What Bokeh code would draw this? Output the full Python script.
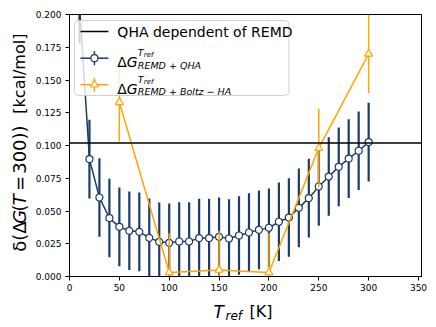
import math
from bokeh.plotting import figure
from bokeh.layouts import row, column
from bokeh.models import (ColumnDataSource, Range1d, FixedTicker, NumeralTickFormatter,
                          Span, BoxAnnotation, Label)
from bokeh.core.properties import value
from bokeh.embed import file_html
from bokeh.resources import INLINE

# ---------------- data ----------------
t_qha = [10, 20, 30, 40, 50, 60, 70, 80, 90, 100, 110, 120, 130, 140, 150,
         160, 170, 180, 190, 200, 210, 220, 230, 240, 250, 260, 270, 280, 290, 300]
dg_qha = [0.208, 0.0896, 0.0603, 0.0446, 0.0379, 0.0349, 0.0341, 0.0295, 0.0265, 0.0257,
          0.0267, 0.0267, 0.0293, 0.0293, 0.0303, 0.0290, 0.0313, 0.0336, 0.0356, 0.0372,
          0.0418, 0.0450, 0.0524, 0.0598, 0.0687, 0.0763, 0.0837, 0.0900, 0.0960, 0.1026]
err_qha = [0.03, 0.03, 0.03, 0.03, 0.03, 0.03, 0.03, 0.03, 0.03, 0.03,
           0.03, 0.03, 0.03, 0.03, 0.03, 0.03, 0.03, 0.03, 0.03, 0.03,
           0.03, 0.03, 0.03, 0.03, 0.03, 0.03, 0.03, 0.03, 0.03, 0.03]

t_boltz = [50, 100, 150, 200, 250, 300]
dg_boltz = [0.133, 0.003, 0.005, 0.003, 0.098, 0.170]
err_boltz = [0.03, 0.03, 0.03, 0.03, 0.03, 0.03]

qha_reference = 0.102

x_ticks = [0, 50, 100, 150, 200, 250, 300, 350]
y_ticks = [0.0, 0.025, 0.05, 0.075, 0.1, 0.125, 0.15, 0.175, 0.2]

# ---------------- styles ----------------
BLUE = "#1d3c66"
ORANGE = "#ffa500"
FONT = "DejaVu Sans"

W, H = 436, 327
YLAB_W = 32            # width of the strip holding the y-axis title
MAIN_H = 296           # height of the main figure
X0, X1 = 0, 353
Y0, Y1 = 0.0, 0.2
# frame placement (page px)
FL, FR, FT, FB = 68, 421, 14, 276


def X(px):
    return X0 + (px - FL) / (FR - FL) * (X1 - X0)


def Y(py):
    return Y0 + (FB - py) / (FB - FT) * (Y1 - Y0)


p = figure(width=W - YLAB_W, height=MAIN_H, output_backend="svg", toolbar_location=None,
           x_range=Range1d(X0, X1), y_range=Range1d(Y0, Y1),
           min_border_left=FL - YLAB_W, min_border_right=W - FR,
           min_border_top=FT, min_border_bottom=MAIN_H - FB)
p.xgrid.visible = False
p.ygrid.visible = False
p.outline_line_color = "black"
p.outline_line_width = 1
p.background_fill_color = "white"
p.border_fill_color = "white"

for ax in (p.xaxis[0], p.yaxis[0]):
    ax.axis_line_color = "black"
    ax.major_tick_line_color = "black"
    ax.major_tick_out = 4
    ax.major_tick_in = 0
    ax.minor_tick_out = 0
    ax.minor_tick_in = 0
    ax.major_label_text_font = FONT
    ax.major_label_text_font_size = "9px"
    ax.major_label_text_color = "black"
p.xaxis.ticker = FixedTicker(ticks=x_ticks)
p.yaxis.ticker = FixedTicker(ticks=y_ticks)
p.yaxis.formatter = NumeralTickFormatter(format="0.000")
p.xaxis.major_label_standoff = 3
p.yaxis.major_label_standoff = 4

# reference horizontal line
p.add_layout(Span(location=qha_reference, dimension="width", line_color="black", line_width=1.5,
                  level="glyph"))

# QHA series
src_q = ColumnDataSource(dict(x=t_qha, y=dg_qha,
                              lo=[v - e for v, e in zip(dg_qha, err_qha)],
                              hi=[v + e for v, e in zip(dg_qha, err_qha)]))
p.segment(x0="x", y0="lo", x1="x", y1="hi", source=src_q, line_color=BLUE, line_width=2.2)
p.line("x", "y", source=src_q, line_color=BLUE, line_width=1.5)
p.scatter("x", "y", source=src_q, marker="circle", size=7, fill_color="white",
          line_color=BLUE, line_width=1.2)

# Boltzmann series
src_b = ColumnDataSource(dict(x=t_boltz, y=dg_boltz,
                              lo=[v - e for v, e in zip(dg_boltz, err_boltz)],
                              hi=[v + e for v, e in zip(dg_boltz, err_boltz)]))
p.segment(x0="x", y0="lo", x1="x", y1="hi", source=src_b, line_color=ORANGE, line_width=1.5)
p.line("x", "y", source=src_b, line_color=ORANGE, line_width=1.5)
p.scatter("x", "y", source=src_b, marker="triangle", size=8, fill_color="white",
          line_color=ORANGE, line_width=1.2)

# ---------------- legend (manual, for math-style labels) ----------------
p.add_layout(BoxAnnotation(left=X(73), right=X(288), top=Y(20), bottom=Y(95),
                           fill_color="white", fill_alpha=0.8,
                           line_color="#cccccc", line_alpha=0.9, line_width=1,
                           border_radius=4))

rows = [Y(31), Y(57.7), Y(84.2)]
hx0, hx1, hxm = X(79), X(107), X(93)
r = p.line([hx0, hx1], [rows[0], rows[0]], line_color="black", line_width=1.5)
r.level = "overlay"
r = p.line([hx0, hx1], [rows[1], rows[1]], line_color=BLUE, line_width=1.5)
r.level = "overlay"
r = p.segment(x0=[hxm], y0=[Y(57.7 + 7)], x1=[hxm], y1=[Y(57.7 - 7)], line_color=BLUE, line_width=1.5)
r.level = "overlay"
r = p.scatter([hxm], [rows[1]], marker="circle", size=7, fill_color="white", line_color=BLUE,
              line_width=1.2)
r.level = "overlay"
r = p.line([hx0, hx1], [rows[2], rows[2]], line_color=ORANGE, line_width=1.5)
r.level = "overlay"
r = p.segment(x0=[hxm], y0=[Y(84.2 + 7)], x1=[hxm], y1=[Y(84.2 - 7)], line_color=ORANGE,
              line_width=1.5)
r.level = "overlay"
r = p.scatter([hxm], [rows[2]], marker="triangle", size=8, fill_color="white", line_color=ORANGE,
              line_width=1.2)
r.level = "overlay"


def lab(text, px, py, size, style="normal", align="left", baseline="alphabetic", angle=0.0):
    p.add_layout(Label(x=X(px), y=Y(py), text=text, text_font=FONT, text_font_size=size,
                       text_font_style=style, text_align=align, text_baseline=baseline,
                       text_color="black", angle=angle))


lab("QHA dependent of REMD", 116, 31, "14px", baseline="middle")
for dy, sub in ((0, "REMD + QHA"), (26.5, "REMD + Boltz − HA")):
    lab("Δ", 116, 61.5 + dy, "14px")
    lab("G", 125.5, 61.5 + dy, "14px", style="italic")
    lab("T", 136.5, 52 + dy, "9.5px", style="italic")
    lab("ref", 142.5, 54.5 + dy, "7px", style="italic")
    lab(sub, 136.5, 64.5 + dy, "9.5px", style="italic")


# ---------------- axis titles (own strips, pixel-mapped) ----------------
def strip(w, h):
    f = figure(width=w, height=h, output_backend="svg", toolbar_location=None,
               x_range=Range1d(0, w), y_range=Range1d(0, h),
               x_axis_type=None, y_axis_type=None,
               min_border=0, min_border_left=0, min_border_right=0,
               min_border_top=0, min_border_bottom=0)
    f.outline_line_color = None
    f.background_fill_color = "white"
    f.border_fill_color = "white"
    return f


# y axis title: δ(ΔG(T = 300)) [kcal/mol]  (pieces read bottom to top)
ylab = strip(YLAB_W, MAIN_H)
for text, py, size, style in (("δ(Δ", 268, "18px", "normal"),
                               ("G", 236.5, "18px", "italic"),
                               ("(", 222.5, "18px", "normal"),
                               ("T", 215.5, "18px", "italic"),
                               ("=", 199.5, "18px", "normal"),
                               ("300))", 180, "18px", "normal"),
                               ("[kcal/mol]", 112, "16px", "normal")):
    ylab.text(x=[19], y=[MAIN_H - py], text=[text], angle=math.pi / 2,
              text_font=value(FONT), text_font_size=value(size),
              text_font_style=value(style), text_align="left", text_baseline="middle",
              text_color="black")

# x axis title: T_ref [K]
XLAB_H = H - MAIN_H
xlab = strip(W, XLAB_H)
for text, px, py, size, style in (("T", 213, 311, "17px", "italic"),
                                  ("ref", 225, 315, "12px", "italic"),
                                  ("[K]", 249, 311, "16px", "normal")):
    xlab.text(x=[px], y=[H - py], text=[text],
              text_font=value(FONT), text_font_size=value(size),
              text_font_style=value(style), text_align="left", text_baseline="alphabetic",
              text_color="black")

layout = column(row(ylab, p, spacing=0), xlab, spacing=0)
open("out.html", "w").write(file_html(layout, INLINE))
